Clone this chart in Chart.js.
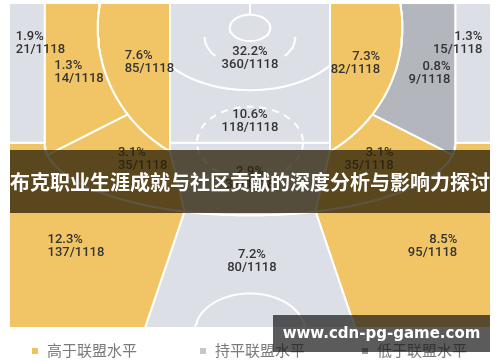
<!DOCTYPE html>
<html lang="zh-CN">
<head>
<meta charset="UTF-8">
<title>布克投篮分布</title>
<script src="https://cdn.jsdelivr.net/npm/chart.js@4.4.0/dist/chart.umd.min.js"></script>
<style>
    body { margin: 0; background: #fff; }
    .wrap { position: relative; width: 500px; height: 362px; overflow: hidden; }
    canvas { position: absolute; left: 0; top: 0; }
    .title-band {
        position: absolute; left: 10px; top: 150px; width: 480px; height: 63px;
        background: rgba(44, 33, 9, 0.77);
        color: #fff; font: bold 20px "Noto Sans CJK SC", sans-serif;
        line-height: 63px; text-align: center; white-space: nowrap;
    }
    .legend-item {
        position: absolute; top: 340px; height: 20px;
        font: 15px "Noto Sans CJK SC", sans-serif; color: #7a7a7a; line-height: 20px;
        white-space: nowrap;
    }
    .legend-item i {
        display: inline-block; width: 6px; height: 6px; margin-right: 9px;
        vertical-align: 2px;
    }
    .mark {
        position: absolute; left: 273px; top: 315px; width: 217px; height: 37px;
        background: rgba(22, 22, 22, 0.7);
        color: #fff; font: bold 15px "DejaVu Sans", sans-serif;
        line-height: 37px; text-align: center; white-space: nowrap;
    }
</style>
</head>
<body>
<div class="wrap">
    <canvas id="court" width="500" height="362"></canvas>
    <div id="legend"></div>
    <div class="title-band">布克职业生涯成就与社区贡献的深度分析与影响力探讨</div>
    <div class="mark">www.cdn-pg-game.com</div>
</div>
<script>
// 投篮区域数据 (出手数 / 总出手)
const zoneNames = ['左侧底角三分', '左侧底线中投', '左侧近距中投', '篮下', '油漆区', '右侧近距中投', '右侧底线中投',
    '右侧底角三分', '左侧45度中投', '右侧45度中投', '正面中投', '左侧45度三分', '正面三分', '右侧45度三分'];
const zoneShots = [21, 14, 85, 360, 118, 82, 9, 15, 35, 35, 32, 137, 80, 95];
const zonePct = [1.9, 1.3, 7.6, 32.2, 10.6, 7.3, 0.8, 1.3, 3.1, 3.1, 2.9, 12.3, 7.2, 8.5];
const zoneLevel = ['even', 'above', 'above', 'even', 'even', 'above', 'below',
    'even', 'above', 'above', 'even', 'above', 'even', 'above'];
const totalShots = 1118;
const levelKeys = ['above', 'even', 'below'];
const levelLabels = ['高于联盟水平', '持平联盟水平', '低于联盟水平'];

// 样式
const levelColors = { above: '#f1c565', even: '#dcdfe6', below: '#b3b6bd' };
const legendColors = { above: '#f0c25a', even: '#c6c8cc', below: '#9c9ea3' };
const legendLeft = [32, 200, 362];

// 球场几何 (英尺, 底线在上)
const HOOP_Y = 3.6;
const LANE_X = 8.3, FT_Y = 20.2;
const CORNER_X = 21.3;
const ARC3 = { cy: 20.2, rx: 21.3, ry: 10.5 };
const MIDARC = { rx: 15.8, ry: 21.0 };
const RA = { rx: 10.4, ry: 9.0 };
const JUNCTION_X = 12.7, WING_END_X = 21.0, TOP3_X = 6.8, TOP3_BOTTOM_X = 10.9;

// 标签位置 [x, y, 对齐]
const labelPos = [
    [-24.3, 4.9, 'left'], [-20.3, 9.1, 'left'], [-13.0, 7.7, 'left'], [0, 7.1, 'center'],
    [0, 16.2, 'center'], [13.5, 7.8, 'right'], [20.8, 9.25, 'right'], [24.1, 4.9, 'right'],
    [-13.7, 21.7, 'left'], [14.9, 21.7, 'right'], [0, 24.4, 'center'], [-21.0, 34.2, 'left'],
    [0.2, 36.4, 'center'], [21.5, 34.2, 'right']
];

const deg = a => a * 180 / Math.PI;
function ell(cx, cy, rx, ry, t0, t1, steps) {
    steps = steps || 40;
    const pts = [];
    for (let i = 0; i <= steps; i++) {
        const t = (t0 + (t1 - t0) * i / steps) * Math.PI / 180;
        pts.push({ x: cx + rx * Math.cos(t), y: cy + ry * Math.sin(t) });
    }
    return pts;
}
const midArc = (a, b) => ell(0, HOOP_Y, MIDARC.rx, MIDARC.ry, a, b);
const arc3 = (a, b) => ell(0, ARC3.cy, ARC3.rx, ARC3.ry, a, b);
const raArc = (a, b) => ell(0, HOOP_Y, RA.rx, RA.ry, a, b);
const mirror = pts => pts.map(p => ({ x: -p.x, y: p.y }));
const close = pts => pts.concat([pts[0]]);

const tTop = 180 + deg(Math.asin(HOOP_Y / MIDARC.ry));
const tJ = deg(Math.acos(-JUNCTION_X / MIDARC.rx));
const tLane = deg(Math.acos(-LANE_X / MIDARC.rx));
const tWing = deg(Math.acos(-WING_END_X / ARC3.rx));
const tTop3 = deg(Math.acos(-TOP3_X / ARC3.rx));
const tRA = deg(Math.acos(LANE_X / RA.rx));
const laneEndY = midArc(tLane, tLane, 1)[0].y;

const cornerL = [{ x: -25, y: 0 }, { x: -CORNER_X, y: 0 }, { x: -CORNER_X, y: FT_Y }, { x: -25, y: FT_Y }];
const baseL = [{ x: -CORNER_X, y: 0 }].concat(midArc(tTop, tJ), arc3(tWing, 180));
const shortL = midArc(tTop, tLane).concat([{ x: -LANE_X, y: 0 }]);
const wingMidL = midArc(tJ, tLane).concat(arc3(tTop3, tWing));
const wing3L = [{ x: -25, y: FT_Y }].concat(arc3(180, tTop3), [{ x: -TOP3_BOTTOM_X, y: 47 }, { x: -25, y: 47 }]);

const zoneShapes = [
    cornerL, baseL, shortL,
    [{ x: -LANE_X, y: 0 }, { x: LANE_X, y: 0 }].concat(raArc(tRA, 180 - tRA)),
    raArc(tRA, 180 - tRA).concat([{ x: -LANE_X, y: FT_Y }, { x: LANE_X, y: FT_Y }]),
    mirror(shortL), mirror(baseL), mirror(cornerL),
    wingMidL, mirror(wingMidL),
    [{ x: -LANE_X, y: FT_Y }, { x: LANE_X, y: FT_Y }, { x: LANE_X, y: laneEndY }]
        .concat(arc3(180 - tTop3, tTop3), [{ x: -LANE_X, y: laneEndY }]),
    wing3L,
    arc3(tTop3, 180 - tTop3).concat([{ x: TOP3_BOTTOM_X, y: 47 }, { x: -TOP3_BOTTOM_X, y: 47 }]),
    mirror(wing3L)
];

const zoneSets = zoneShapes.map((shape, i) => ({
    label: zoneNames[i],
    data: close(shape),
    showLine: true,
    fill: 'shape',
    backgroundColor: levelColors[zoneLevel[i]],
    borderColor: '#ffffff',
    borderWidth: 2,
    pointRadius: 0,
    tension: 0
}));

function lineSet(pts, dash) {
    return {
        data: pts, showLine: true, fill: false, borderColor: '#ffffff', borderWidth: 2,
        borderDash: dash || [], pointRadius: 0, tension: 0
    };
}
const courtLines = [
    lineSet(ell(0, HOOP_Y, 2.1, 1.9, 0, 360, 60)),
    lineSet([{ x: 0, y: 0 }, { x: 0, y: HOOP_Y - 1.9 }]),
    lineSet(ell(0, 4.9, 4.7, 4.3, 0, 40, 12)),
    lineSet(ell(0, 4.9, 4.7, 4.3, 140, 180, 12)),
    lineSet(ell(0, FT_Y, 5.5, 5.2, 0, 360, 80), [7, 6]),
    lineSet(ell(0, 47.5, 5.7, 5.5, 180, 360, 60))
];

const zoneLabels = {
    id: 'zoneLabels',
    afterDatasetsDraw(chart) {
        const ctx = chart.ctx, xs = chart.scales.x, ys = chart.scales.y;
        ctx.save();
        ctx.font = '500 13px Roboto, "Liberation Sans", sans-serif';
        ctx.fillStyle = '#333333';
        ctx.textBaseline = 'middle';
        zoneShots.forEach((n, i) => {
            const [lx, ly, align] = labelPos[i];
            const px = xs.getPixelForValue(lx), py = ys.getPixelForValue(ly);
            ctx.textAlign = align;
            ctx.fillText(zonePct[i].toFixed(1) + '%', px, py);
            ctx.fillText(n + '/' + totalShots, px, py + 13);
        });
        ctx.restore();
    }
};

new Chart(document.getElementById('court'), {
    type: 'scatter',
    data: { datasets: courtLines.concat(zoneSets) },
    options: {
        responsive: false,
        animation: false,
        layout: { padding: { left: 9, right: 9, top: 3, bottom: 34 } },
        scales: {
            x: { type: 'linear', min: -25, max: 25, display: false },
            y: { type: 'linear', min: 0, max: 47, reverse: true, display: false }
        },
        plugins: { legend: { display: false }, tooltip: { enabled: false } }
    },
    plugins: [zoneLabels]
});

// 图例
const legendEl = document.getElementById('legend');
levelKeys.forEach((k, i) => {
    const item = document.createElement('div');
    item.className = 'legend-item';
    item.style.left = legendLeft[i] + 'px';
    item.innerHTML = '<i style="background:' + legendColors[k] + '"></i>' + levelLabels[i];
    legendEl.appendChild(item);
});
</script>
</body>
</html>
